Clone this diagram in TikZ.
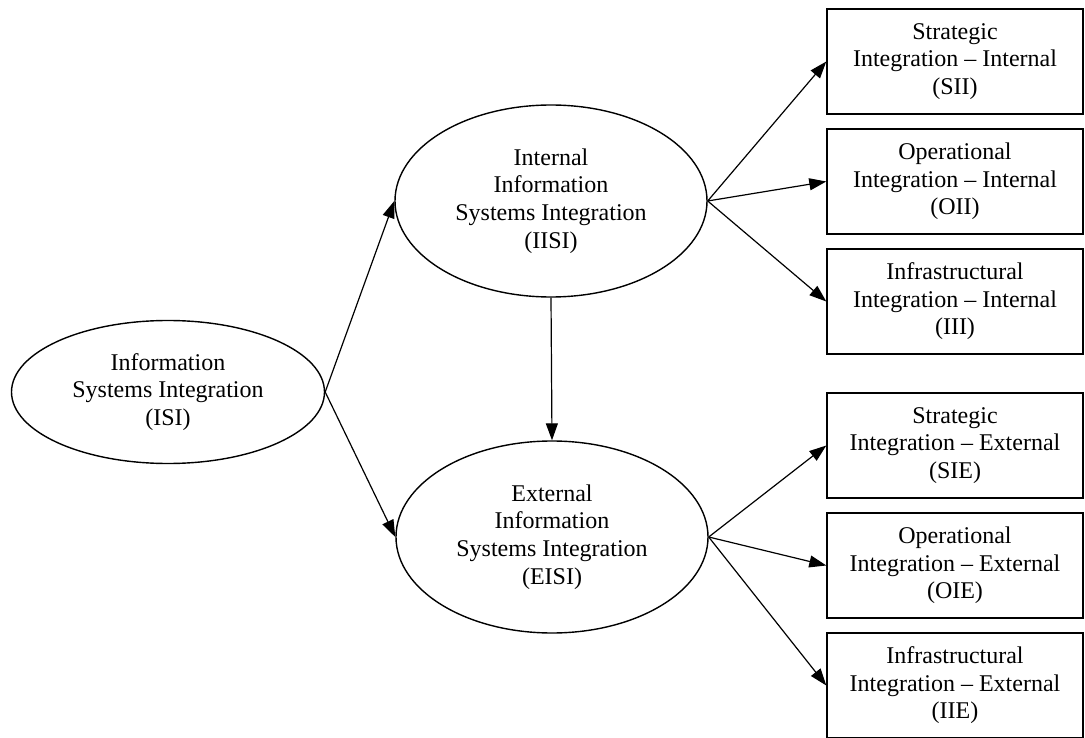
\documentclass[tikz,border=0pt]{standalone}
\usepackage{fontspec}
\setmainfont{Liberation Serif}
\usetikzlibrary{shapes.geometric,arrows.meta}

\begin{document}
\begin{tikzpicture}[x=1pt,y=-1pt,
        txt/.style={align=center,font=\fontsize{24}{27.6}\selectfont},
        oval/.style={txt,draw,ellipse,line width=1.4pt,inner sep=0pt,minimum width=312pt,minimum height=192pt},
        dimbox/.style={txt,draw,rectangle,line width=1.4pt,inner sep=0pt,minimum width=256pt,minimum height=105pt},
        arr/.style={line width=1.2pt,-{Triangle[length=17pt,width=12pt]}}]
        \fill[white] (0,0) rectangle (1085,738);
        \useasboundingbox (0,0) rectangle (1085,738);
        \node[oval,minimum width=313pt,minimum height=143pt] (isi) at (168,392){Information\\Systems Integration\\(ISI)};
        \node[oval] (iisi) at (551,201){Internal\\Information\\Systems Integration\\(IISI)};
        \node[oval] (eisi) at (552,537){External\\Information\\Systems Integration\\(EISI)};
        \node[dimbox] (sii) at (955,61.5){Strategic\\Integration -- Internal\\(SII)};
        \node[dimbox] (oii) at (955,181.5){Operational\\Integration -- Internal\\(OII)};
        \node[dimbox] (iii) at (955,301.5){Infrastructural\\Integration -- Internal\\(III)};
        \node[dimbox] (sie) at (955,445.5){Strategic\\Integration -- External\\(SIE)};
        \node[dimbox] (oie) at (955,565.5){Operational\\Integration -- External\\(OIE)};
        \node[dimbox] (iie) at (955,685.5){Infrastructural\\Integration -- External\\(IIE)};
        \draw[arr] (isi.east) -- (iisi.west);
        \draw[arr] (isi.east) -- (eisi.west);
        \draw[arr] (iisi.south) -- (eisi.north);
        \foreach \b in {sii,oii,iii}
            \draw[arr] (iisi.east) -- (\b.west);
        \foreach \b in {sie,oie,iie}
            \draw[arr] (eisi.east) -- (\b.west);
    \end{tikzpicture}
\end{document}
